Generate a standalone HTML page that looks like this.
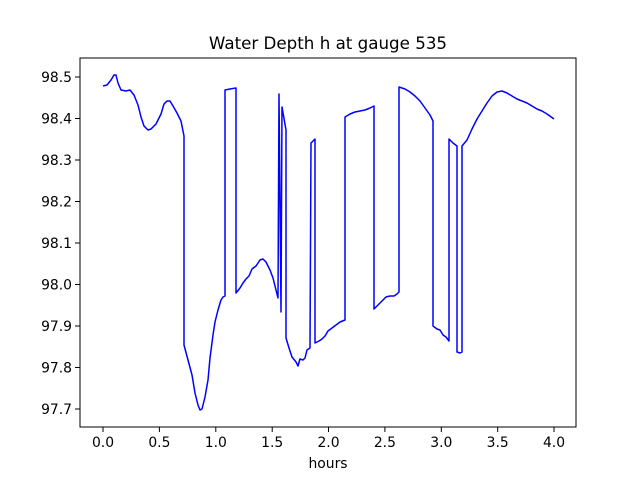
<!DOCTYPE html>
<html><head><meta charset="utf-8"><style>body{margin:0;background:#fff}svg{display:block}text{font-family:"DejaVu Sans","Liberation Sans",sans-serif;font-size:13.9px;fill:#000}</style></head><body>
<svg width="640" height="480" xmlns="http://www.w3.org/2000/svg">
<rect width="640" height="480" fill="#fff"/>
<text x="328" y="49" text-anchor="middle" style="font-size:16.7px">Water Depth h at gauge 535</text>
<polyline fill="none" stroke="#0000ff" stroke-width="1.5" stroke-linejoin="round" points="103,86 107,85 111,80 114,75 116,75 118,83 121,90 126,91 130,90 134,95 138,105 141,117 144,126 148,130 151,129 156,124 161,114 164,104 167,101 170,101 173,106 177,113 181,121 184,136 184,345 188,360 192,375 195,393 198,405 200,410 202,409 205,397 208,380 210,358 213,335 215,322 218,310 221,300 223,297 225,296 225,90 230,89 236,88 236,293 240,288 243,283 246,279 249,276 252,269 256,266 260,260 263,259 266,262 270,270 273,278 276,290 278,298 279,94 280,200 281,312 282,107 286,130 286,338 289,348 292,357 296,362 298,366 300,359 303,360 305,358 307,350 310,348 311,143 315,139 315,343 319,341 322,339 325,336 328,331 332,328 336,325 340,322 345,320 345,117 350,114 355,112 360,111 365,110 370,108 374,106 374,309 378,305 382,301 386,297 390,296 394,296 397,294 399,292 399,87 405,89 410,92 415,96 420,101 425,108 430,115 433,121 433,326 437,329 440,330 443,335 446,337 449,341 449,139 453,143 457,146 457,352 460,353 462,352 462,146 467,140 472,129 477,119 482,111 487,103 492,96 497,92 502,91 507,93 512,96 517,99 522,101 527,103 532,106 537,109 542,111 547,114 554,119"/>
<rect x="80" y="58" width="496" height="369" fill="none" stroke="#000" stroke-width="1"/>
<g stroke="#000" stroke-width="1">
<line x1="103" y1="427" x2="103" y2="432"/><line x1="159.4" y1="427" x2="159.4" y2="432"/><line x1="215.8" y1="427" x2="215.8" y2="432"/><line x1="272.2" y1="427" x2="272.2" y2="432"/><line x1="328.5" y1="427" x2="328.5" y2="432"/><line x1="384.9" y1="427" x2="384.9" y2="432"/><line x1="441.3" y1="427" x2="441.3" y2="432"/><line x1="497.7" y1="427" x2="497.7" y2="432"/><line x1="554" y1="427" x2="554" y2="432"/>
<line x1="75" y1="77" x2="80" y2="77"/><line x1="75" y1="118.5" x2="80" y2="118.5"/><line x1="75" y1="160" x2="80" y2="160"/><line x1="75" y1="201.5" x2="80" y2="201.5"/><line x1="75" y1="243" x2="80" y2="243"/><line x1="75" y1="284.5" x2="80" y2="284.5"/><line x1="75" y1="326" x2="80" y2="326"/><line x1="75" y1="367.5" x2="80" y2="367.5"/><line x1="75" y1="409" x2="80" y2="409"/>
</g>
<g text-anchor="middle">
<text x="103" y="447">0.0</text><text x="159.4" y="447">0.5</text><text x="215.8" y="447">1.0</text><text x="272.2" y="447">1.5</text><text x="328.5" y="447">2.0</text><text x="384.9" y="447">2.5</text><text x="441.3" y="447">3.0</text><text x="497.7" y="447">3.5</text><text x="554" y="447">4.0</text>
<text x="328" y="468">hours</text>
</g>
<g text-anchor="end">
<text x="72" y="82">98.5</text><text x="72" y="123.5">98.4</text><text x="72" y="165">98.3</text><text x="72" y="206.5">98.2</text><text x="72" y="248">98.1</text><text x="72" y="289.5">98.0</text><text x="72" y="331">97.9</text><text x="72" y="372.5">97.8</text><text x="72" y="414">97.7</text>
</g>
</svg>
</body></html>
